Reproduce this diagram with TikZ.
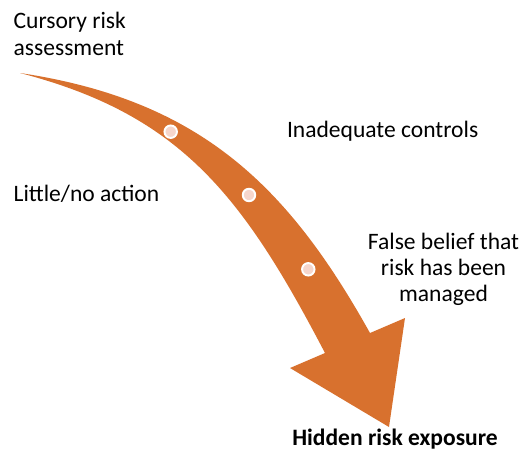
\documentclass[tikz,border=0pt]{standalone}
\usepackage{fontspec}
\setmainfont{Carlito}
\definecolor{arroworange}{RGB}{216,113,46}
\definecolor{dotpink}{RGB}{246,214,204}

\tikzset{
    labeltext/.style={inner sep=0pt, font=\fontsize{13.4}{14.8}\selectfont},
    pathdot/.style={circle, fill=dotpink, draw=white, line width=1.1pt,
                    minimum size=7.1pt, inner sep=0pt}
}

\begin{document}
\begin{tikzpicture}[x=0.02cm, y=-0.02cm]
    \useasboundingbox (0, 0) rectangle (528, 450);

    % Draw the curved arrow
    \fill[arroworange] (20, 73) .. controls (200, 100) and (287.7, 185.5) .. (370, 333)
        -- (405, 318) -- (389, 427) -- (290, 368) -- (325, 353)
        .. controls (242.1, 194.3) and (180, 114.6) .. cycle;

    % Dots along the arrow
    \node[pathdot] (dot1) at (170.7, 131.7) {};
    \node[pathdot] (dot2) at (249, 195) {};
    \node[pathdot] (dot3) at (308.3, 269.3) {};

    % Labels (base of a multi-line node is its last line)
    \node[labeltext, anchor=base west, align=left] (cursory) at (13.3, 55) {Cursory risk\\assessment};
    \node[labeltext, anchor=base west] (controls) at (286.7, 137.3) {Inadequate controls};
    \node[labeltext, anchor=base west] (action) at (13.3, 201.7) {Little/no action};
    \node[labeltext, anchor=base, align=center] (belief) at (443.5, 301.7) {False belief that\\risk has been\\managed};
    \node[labeltext, anchor=base, font=\fontsize{13.4}{14.8}\selectfont\bfseries] (exposure) at (395, 445) {Hidden risk exposure};
\end{tikzpicture}
\end{document}
